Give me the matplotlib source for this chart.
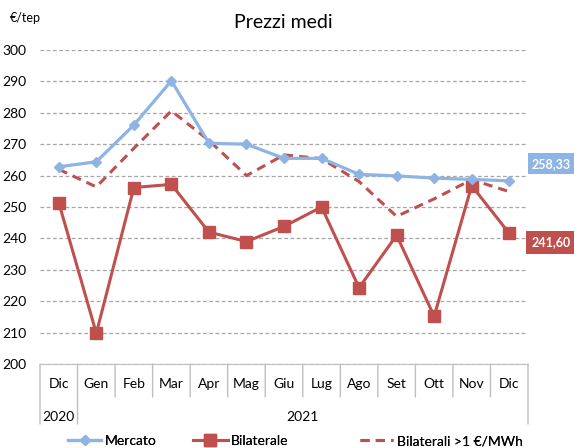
import matplotlib
matplotlib.use("Agg")
import matplotlib.pyplot as plt

plt.rcParams['font.family'] = ['Lato', 'DejaVu Sans']

months = ["Dic", "Gen", "Feb", "Mar", "Apr", "Mag", "Giu", "Lug", "Ago", "Set", "Ott", "Nov", "Dic"]
years = ["2020", "2021"]
mercato = [262.8, 264.4, 276.1, 290.2, 270.3, 270.0, 265.5, 265.5, 260.4, 259.9, 259.2, 258.8, 258.33]
bilaterale = [251.4, 209.8, 256.2, 257.2, 242.0, 239.0, 243.8, 250.0, 224.3, 241.0, 215.2, 256.8, 241.60]
bilaterali_1 = [262.0, 256.4, 268.7, 280.6, 271.2, 260.0, 266.6, 265.4, 258.1, 247.0, 252.6, 258.7, 254.9]
last_mercato_label = "258,33"
last_bilaterale_label = "241,60"

BLUE = "#8DB4E2"
RED = "#C0504D"
GRID = "#A6A6A6"
SEP = "#BFBFBF"

PX = 0.72  # px -> pt at dpi 100

fig = plt.figure(figsize=(5.74, 4.48), dpi=100)
ax = fig.add_axes([40/574, 84/448, 488/574, 314/448])

x = list(range(len(months)))
l1, = ax.plot(x, mercato, color=BLUE, lw=2.3, marker='D', markersize=5.5, label="Mercato", zorder=4)
l2, = ax.plot(x, bilaterale, color=RED, lw=2.2, marker='s', markersize=8, label="Bilaterale", zorder=3)
l3, = ax.plot(x, bilaterali_1, color=RED, lw=2.2, ls=(0, (3, 2)), label="Bilaterali >1 €/MWh", zorder=3)

ax.set_xlim(-0.5, len(months) - 0.5)
ax.set_ylim(200, 300)
ax.set_yticks(range(200, 301, 10))
ax.yaxis.grid(True, color=GRID, ls=(0, (3, 2)), lw=0.9)
ax.set_axisbelow(True)
for s in ['left', 'right', 'top']:
    ax.spines[s].set_visible(False)
ax.spines['bottom'].set_color(SEP)
ax.tick_params(axis='y', length=0, pad=10, labelsize=10)
ax.tick_params(axis='x', length=0, pad=10, labelsize=10)
ax.set_xticks(x)
ax.set_xticklabels(months)

# category separators
for i in range(len(months) + 1):
    xv = i - 0.5
    long = i in (0, 1, len(months))
    depth = 60 if long else 33
    ax.annotate("", xy=(xv, 0), xycoords=('data', 'axes fraction'),
                xytext=(0, -depth * PX), textcoords='offset points',
                arrowprops=dict(arrowstyle='-', color=SEP, lw=1, shrinkA=0, shrinkB=0))

# year labels
ax.annotate(years[0], xy=(0, 0), xycoords=('data', 'axes fraction'),
            xytext=(0, -53 * PX), textcoords='offset points', ha='center', va='center', fontsize=10)
ax.annotate(years[1], xy=((1 + len(months) - 1) / 2, 0), xycoords=('data', 'axes fraction'),
            xytext=(0, -53 * PX), textcoords='offset points', ha='center', va='center', fontsize=10)

# end value labels
ax.annotate(last_mercato_label, xy=(1.0, mercato[-1]), xycoords=('axes fraction', 'data'),
            xytext=(4 * PX, 17 * PX), textcoords='offset points', ha='left', va='center',
            color='white', fontsize=9, fontweight='bold',
            bbox=dict(boxstyle='square,pad=0.35', fc=BLUE, ec='none'))
ax.annotate(last_bilaterale_label, xy=(1.0, bilaterale[-1]), xycoords=('axes fraction', 'data'),
            xytext=(4 * PX, -9 * PX), textcoords='offset points', ha='left', va='center',
            color='white', fontsize=9, fontweight='bold',
            bbox=dict(boxstyle='square,pad=0.45', fc=RED, ec='none'))

fig.text(283/574, 1 - 22/448, "Prezzi medi", ha='center', va='center', fontsize=14)
fig.text(10/574, 1 - 18/448, "€/tep", ha='left', va='center', fontsize=9)

# legend: three entries placed individually
leg_y = 1 - 441/448
for handle, xpx, hl in ((l1, 68, 2.4), (l2, 193, 2.5), (l3, 360, 2.4)):
    lg = fig.legend(handles=[handle], loc='center left', bbox_to_anchor=(xpx/574, leg_y),
                    frameon=False, fontsize=10, handlelength=hl, handletextpad=0.25,
                    borderaxespad=0, borderpad=0)
    fig.add_artist(lg)

fig.savefig("out.png", dpi=100)
